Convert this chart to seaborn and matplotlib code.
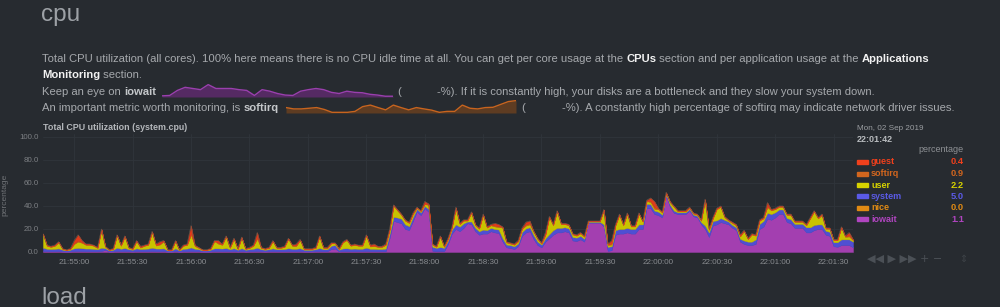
"""
Netdata style cpu section: stacked area of system.cpu with page text around it.
"""
import matplotlib
matplotlib.use("Agg")
import matplotlib.pyplot as plt
import matplotlib.dates as mdates
from matplotlib.patches import Rectangle
import pandas as pd
import seaborn as sns

W, H = 1000, 307
BG = "#272b30"
GREY = "#a6a9ad"
WHITE = "#f2f2f2"

# samples every 2 s from 21:54:44 to 22:01:40
iowait = [
    0.8, 0.6, 0.6, 0.6, 0.7, 0.5, 0.4, 0.5, 0.7, 0.8,
    0.7, 0.6, 0.6, 0.6, 0.6, 0.8, 1.8, 0.4, 0.5, 0.8,
    0.6, 0.7, 0.6, 0.5, 0.7, 0.6, 0.6, 0.6, 0.8, 0.6,
    0.6, 0.7, 0.4, 0.4, 0.7, 0.4, 0.6, 0.6, 0.8, 0.6,
    0.6, 0.4, 0.4, 0.5, 0.7, 0.7, 0.6, 0.7, 0.6, 0.7,
    0.5, 0.7, 0.5, 0.6, 0.6, 0.8, 0.6, 0.5, 0.6, 0.7,
    0.6, 0.6, 0.6, 0.7, 0.6, 0.6, 0.7, 0.5, 0.5, 0.5,
    0.6, 0.7, 0.6, 0.6, 2.5, 3.0, 0.5, 0.7, 0.7, 0.6,
    0.6, 0.6, 0.6, 0.8, 0.6, 0.6, 0.6, 0.6, 0.6, 12.0,
    27, 26, 25, 20, 19, 27, 35, 32, 38, 35,
    1.0, 0.6, 0.8, 0.6, 7.0, 16, 20, 18, 21, 25,
    24, 18, 15, 16, 16, 18, 17, 16.5, 9, 4.0,
    3.5, 2.5, 5, 14, 17, 18, 11, 6, 4, 9,
    12, 15, 17, 17, 18, 17, 10, 9.5, 11, 9,
    25.5, 25.5, 25.5, 25.5, 22, 1.0, 1.5, 15, 16, 16,
    17, 16, 16, 20, 20, 38, 38, 33, 32, 30,
    49, 39, 34, 33, 33, 33, 36, 31, 30, 24,
    20, 13, 23, 24, 26, 25, 24, 21, 19, 9,
    7, 6, 6, 7, 20, 22, 29, 28, 30, 33,
    33, 26, 25, 21, 21, 21, 17, 17, 19, 20,
    20, 15, 14, 5, 4.5, 6, 6, 6, 4,
]
system = [
    3.0, 2.2, 2.0, 2.2, 2.4, 1.5, 1.0, 1.5, 2.5, 2.8,
    2.6, 2.4, 2.4, 2.2, 1.8, 3.0, 1.5, 1.0, 1.5, 3.0,
    2.2, 2.8, 1.8, 1.5, 2.5, 2.0, 2.2, 2.4, 3.0, 2.4,
    2.4, 2.5, 1.0, 1.0, 2.5, 1.0, 2.2, 2.4, 3.2, 2.2,
    1.8, 1.0, 1.0, 1.5, 2.5, 2.5, 2.4, 2.8, 1.8, 2.6,
    1.5, 2.6, 1.5, 1.8, 2.2, 3.0, 1.8, 1.5, 1.8, 2.5,
    1.8, 1.8, 2.0, 2.6, 2.2, 2.2, 2.6, 1.5, 1.5, 1.5,
    1.8, 2.8, 1.8, 1.8, 3.0, 3.0, 1.5, 2.4, 2.6, 2.2,
    2.4, 2.2, 2.2, 3.0, 2.2, 2.2, 2.0, 2.0, 2.4, 4.0,
    3.5, 4, 4, 4, 3.5, 3.5, 2.5, 2.5, 2, 2.5,
    3.5, 3.0, 3.5, 3.0, 3.0, 3.5, 4, 4, 4, 1.5,
    2.5, 3, 3, 3.5, 3, 3, 3, 3, 3, 2.5,
    2.5, 2.5, 2.5, 3.5, 3.5, 3.5, 3.5, 3, 2.5, 3,
    3.5, 4, 4, 4, 3.5, 3.5, 3, 3, 3, 2.5,
    0.8, 0.8, 0.8, 0.8, 2, 3.5, 3.5, 4, 4, 4,
    4, 4, 4, 4, 4, 4, 3.5, 3, 3, 2.5,
    1.5, 2, 2, 1.5, 1.5, 1.5, 1.5, 1.5, 1.5, 2,
    3, 4, 4, 3.5, 3.5, 3, 2.5, 2.5, 2.5, 2.5,
    3, 3, 3, 4, 4.5, 5, 5, 5, 4.5, 4,
    4, 3.5, 3.5, 3.5, 3.5, 3.5, 4.5, 4.5, 4.5, 4,
    4, 3.5, 3.5, 3.5, 4, 5, 5, 5, 5,
]
user = [
    11.5, 2.6, 1.8, 2.6, 5.3, 0.6, 0.4, 0.6, 3.8, 5.4,
    4.7, 3.2, 3.2, 2.6, 1.1, 15.3, 1.2, 0.4, 0.6, 10.5,
    2.6, 9.8, 1.1, 0.6, 6.2, 1.2, 2.6, 3.2, 13.3, 2.6,
    3.5, 6.2, 0.4, 0.4, 6.2, 0.4, 2.6, 3.2, 11.0, 2.4,
    1.1, 0.4, 0.4, 0.6, 6.2, 4.0, 3.2, 9.8, 1.1, 8.1,
    0.6, 9.1, 0.6, 1.1, 2.6, 7.7, 1.1, 0.6, 1.1, 6.2,
    1.1, 1.1, 1.8, 8.1, 2.6, 2.4, 7.1, 0.6, 0.6, 0.6,
    1.1, 9.8, 1.1, 1.1, 2.0, 1.5, 0.6, 5.3, 7.1, 2.6,
    3.2, 2.6, 2.6, 10.5, 2.0, 2.4, 1.8, 1.8, 3.2, 3.2,
    9.5, 6, 3.2, 3.2, 2.7, 2.7, 1.0, 1.0, 1.5, 3.5,
    1.8, 0.9, 9.0, 0.9, 1.4, 1.8, 14, 2.2, 2.2, 0.8,
    7.6, 2.2, 2.2, 12.7, 2.2, 2.2, 2.2, 2.2, 9.2, 1.8,
    1.3, 1.3, 1.8, 2.7, 2.5, 2.5, 2.7, 2.2, 0.9, 2.6,
    14.7, 4.2, 14.2, 3.2, 2.7, 2.7, 2.2, 1.7, 2.2, 1.7,
    0.4, 0.4, 0.4, 0.4, 12.4, 1.6, 1.5, 4.2, 12.2, 3.2,
    12.2, 2.2, 2.2, 9.2, 2.2, 2.2, 2.0, 1.5, 2.2, 1.7,
    0.8, 2.2, 3.2, 0.8, 0.8, 0.8, 0.8, 0.8, 0.8, 1.2,
    22.2, 2.2, 2.2, 9.7, 9.7, 2.2, 0.8, 1.7, 1.5, 2.0,
    8.2, 2.2, 6.2, 3.2, 2.7, 2.2, 5.0, 3.2, 2.7, 2.2,
    2.2, 2.7, 3.7, 1.7, 1.7, 1.7, 1.7, 7.7, 11.7, 5.2,
    8.2, 1.7, 2.7, 1.7, 1.7, 10.2, 2.2, 2.5, 1.2,
]
softirq = [
    0.4, 0.3, 0.3, 0.3, 0.3, 0.2, 0.1, 0.2, 0.5, 1.0,
    0.5, 0.4, 0.4, 0.3, 0.3, 0.5, 0.3, 0.1, 0.2, 0.4,
    0.3, 0.4, 0.3, 0.2, 0.3, 0.4, 0.3, 0.4, 0.5, 0.4,
    0.5, 0.3, 0.1, 0.1, 0.3, 0.1, 0.3, 0.4, 1.0, 0.3,
    0.3, 0.1, 0.1, 0.2, 0.3, 0.8, 0.4, 0.4, 0.3, 0.3,
    0.2, 0.3, 0.2, 0.3, 0.3, 1.0, 0.3, 0.2, 0.3, 0.3,
    0.3, 0.3, 0.3, 0.3, 0.3, 0.5, 0.3, 0.2, 0.2, 0.2,
    0.3, 0.4, 0.3, 0.3, 0.3, 0.3, 0.2, 0.3, 0.3, 0.3,
    0.4, 0.3, 0.3, 0.4, 0.4, 0.5, 0.3, 0.3, 0.4, 0.4,
    0.5, 0.5, 0.4, 0.4, 0.4, 0.4, 0.3, 0.3, 0.5, 0.5,
    0.4, 0.3, 0.4, 0.3, 0.3, 0.4, 0.5, 0.4, 0.4, 0.4,
    0.5, 0.4, 0.4, 0.4, 0.4, 0.4, 0.8, 0.8, 0.4, 0.4,
    0.4, 0.4, 0.4, 0.4, 1.0, 1.0, 0.4, 0.4, 0.3, 0.8,
    0.4, 0.4, 0.4, 0.4, 0.4, 0.4, 0.4, 0.4, 0.4, 0.4,
    0.2, 0.2, 0.2, 0.2, 0.3, 0.5, 1.0, 0.4, 0.4, 0.4,
    0.4, 0.4, 0.4, 0.4, 0.4, 0.4, 1.0, 1.5, 0.4, 0.4,
    0.4, 0.4, 0.4, 0.4, 0.4, 0.4, 0.4, 0.4, 0.4, 0.4,
    0.4, 0.4, 0.4, 0.4, 0.4, 0.4, 0.4, 0.4, 0.5, 0.5,
    0.4, 0.4, 0.4, 0.4, 0.4, 0.4, 1.0, 0.4, 0.4, 0.4,
    0.4, 0.4, 0.4, 0.4, 0.4, 0.4, 0.4, 0.4, 0.4, 0.4,
    0.4, 0.4, 0.4, 0.4, 0.4, 0.4, 0.4, 1.0, 0.4,
]
guest = [
    0.3, 0.3, 0.3, 0.3, 0.3, 0.2, 0.1, 0.2, 2.5, 5.0,
    1.5, 0.4, 0.4, 0.3, 0.2, 0.4, 0.2, 0.1, 0.2, 0.3,
    0.3, 0.3, 0.2, 0.2, 0.3, 0.8, 0.3, 0.4, 0.4, 1.0,
    2.0, 0.3, 0.1, 0.1, 0.3, 0.1, 0.3, 0.4, 7.0, 0.5,
    0.2, 0.1, 0.1, 0.2, 0.3, 2.0, 0.4, 0.3, 0.2, 0.3,
    0.2, 0.3, 0.2, 0.2, 0.3, 4.5, 0.2, 0.2, 0.2, 0.3,
    0.2, 0.2, 0.3, 0.3, 0.3, 1.3, 0.3, 0.2, 0.2, 0.2,
    0.2, 0.3, 0.2, 0.2, 0.2, 0.2, 0.2, 0.3, 0.3, 0.3,
    0.4, 0.3, 0.3, 0.3, 0.8, 1.3, 0.3, 0.3, 0.4, 0.4,
    0.5, 0.5, 0.4, 0.4, 0.4, 0.4, 0.2, 0.2, 2.0, 0.5,
    0.3, 0.2, 0.3, 0.2, 0.3, 0.3, 0.5, 0.4, 0.4, 0.3,
    0.4, 0.4, 0.4, 0.4, 0.4, 0.4, 2.0, 1.5, 0.4, 0.3,
    0.3, 0.3, 0.3, 0.4, 2.0, 2.0, 0.4, 0.4, 0.3, 1.6,
    0.4, 0.4, 0.4, 0.4, 0.4, 0.4, 0.4, 0.4, 0.4, 0.4,
    0.1, 0.1, 0.1, 0.1, 0.3, 0.4, 2.5, 0.4, 0.4, 0.4,
    0.4, 0.4, 0.4, 0.4, 0.4, 0.4, 2.5, 5.0, 0.4, 0.4,
    0.3, 0.4, 0.4, 0.3, 0.3, 0.3, 0.3, 0.3, 0.3, 0.4,
    0.4, 0.4, 0.4, 0.4, 0.4, 0.4, 0.3, 0.4, 0.5, 1.0,
    0.4, 0.4, 0.4, 0.4, 0.4, 0.4, 3.0, 0.4, 0.4, 0.4,
    0.4, 0.4, 0.4, 0.4, 0.4, 0.4, 0.4, 0.4, 0.4, 0.4,
    0.4, 0.4, 0.4, 0.4, 0.4, 0.4, 0.4, 2.5, 0.4,
]

# sparkline heights (relative)
iowait_spark = [3, 4, 17, 25, 22, 19, 32, 22, 22, 22, 19, 17, 4, 19, 15, 9,
                5, 4, 15, 19, 22, 19, 12, 9, 15, 12, 11, 7, 5, 2, 2]
softirq_spark = [5.7, 4.3, 4.3, 5, 5.7, 3.7, 0.7, 0.7, 0.7, 1.7, 6.7, 8.3,
                 5.7, 3.3, 8.3, 5.7, 3.3, 5.7, 4.3, 3, 0.7, 1.7, 1.7, 8.3,
                 5, 4.3, 5.7, 6, 9, 12, 13]

# legend readout at 22:01:42
legend_names = ["guest", "softirq", "user", "system", "nice", "iowait"]
legend_values = ["0.4", "0.9", "2.2", "5.0", "0.0", "1.1"]
legend_colors = ["#f0401c", "#d2661e", "#d6d200", "#5a5ae6", "#e08a14", "#b045c0"]

fill = {"iowait": "#a33fb0", "system": "#4f4fd2", "user": "#c8c300",
        "softirq": "#c8621c", "guest": "#e23a1a"}

times = pd.date_range("2019-09-02 21:54:44", periods=len(iowait), freq="2s")
df = pd.DataFrame({"iowait": iowait, "system": system, "user": user,
                   "softirq": softirq, "guest": guest}, index=times)

sns.set_theme(style="dark", rc={
    "figure.facecolor": BG, "axes.facecolor": BG, "axes.edgecolor": BG,
    "grid.color": "#30353b", "text.color": GREY,
    "xtick.color": "#8a8d91", "ytick.color": "#7d8084",
})
plt.rcParams["font.family"] = ["Liberation Sans", "DejaVu Sans"]

fig = plt.figure(figsize=(W / 100, H / 100), dpi=100)


def fx(x):
    return x / W


def fy(y):
    return 1 - y / H


# ---- page text
fig.text(fx(41), fy(15), "cpu", fontsize=17.5, color="#9da1a6", va="center")
fig.text(fx(41), fy(298), "load", fontsize=17.5, color="#9da1a6", va="center")

renderer = fig.canvas.get_renderer()


def write_run(x, y, parts, size=8.15):
    for txt, weight, color in parts:
        t = fig.text(fx(x), fy(y), txt, fontsize=size, fontweight=weight,
                     color=color, va="center", ha="left")
        x = t.get_window_extent(renderer).x1
    return x


write_run(42, 59, [
    ("Total CPU utilization (all cores). 100% here means there is no CPU idle "
     "time at all. You can get per core usage at the ", "normal", GREY),
    ("CPUs", "bold", WHITE),
    (" section and per application usage at the ", "normal", GREY),
    ("Applications", "bold", WHITE),
])
write_run(42, 75, [("Monitoring", "bold", WHITE), (" section.", "normal", GREY)])
write_run(42, 92, [("Keep an eye on ", "normal", GREY), ("iowait", "bold", "#c4c7ca")])
write_run(397, 92, [("(", "normal", GREY)])
write_run(437, 92, [("-%). If it is constantly high, your disks are a bottleneck "
                     "and they slow your system down.", "normal", GREY)])
write_run(42, 108, [("An important metric worth monitoring, is ", "normal", GREY),
                    ("softirq", "bold", "#c4c7ca")])
write_run(521, 108, [("(", "normal", GREY)])
write_run(562, 108, [("-%). A constantly high percentage of softirq may indicate "
                      "network driver issues.", "normal", GREY)])

# ---- inline sparklines
for vals, x0, x1, y0, y1, line_c, fill_c in [
        (iowait_spark, 162, 393, 84, 97, "#9a3fae", "#552a63"),
        (softirq_spark, 286, 516, 100, 113, "#c8641e", "#5e3c22")]:
    sax = fig.add_axes([fx(x0), fy(y1), (x1 - x0) / W, (y1 - y0) / H])
    sp = pd.DataFrame({"pos": range(len(vals)), "val": vals})
    sax.fill_between(sp["pos"], 0, sp["val"], color=fill_c, lw=0)
    sns.lineplot(data=sp, x="pos", y="val", ax=sax, color=line_c, lw=1.0)
    sax.set_xlim(0, len(vals) - 1)
    sax.set_ylim(0, max(vals) * 1.05)
    sax.axis("off")

# ---- main chart
ax = fig.add_axes([fx(43), fy(252), (853 - 43) / W, (252 - 134) / H])
order = ["iowait", "system", "user", "softirq", "guest"]
ax.stackplot(df.index, [df[c] for c in order], colors=[fill[c] for c in order],
             lw=0.3, edgecolor="face")
top = df[order].sum(axis=1).rename("total").reset_index()
sns.lineplot(data=top, x="index", y="total", ax=ax, color="#6b5a4a", lw=0.4)

ax.set_xlim(times[0], times[-1])
ax.set_ylim(0, 102.6)
ax.set_yticks([0, 20, 40, 60, 80, 100])
ax.set_yticklabels(["%.1f" % v for v in [0, 20, 40, 60, 80, 100]], fontsize=5.7)
ax.xaxis.set_major_locator(mdates.SecondLocator(bysecond=[0, 30]))
ax.xaxis.set_major_formatter(mdates.DateFormatter("%H:%M:%S"))
ax.tick_params(axis="x", labelsize=5.8, length=0, pad=5)
ax.tick_params(axis="y", length=0, pad=3)
ax.grid(True, lw=0.6)
ax.set_xlabel("")
ax.set_ylabel("")
for s in ax.spines.values():
    s.set_visible(False)

fig.text(fx(43), fy(127), "Total CPU utilization (system.cpu)", fontsize=6.4,
         fontweight="bold", color="#b4b7bb", va="center")
fig.text(fx(5), fy(195), "percentage", fontsize=6, color="#6f7276",
         rotation=90, va="center", ha="center")

# ---- legend panel
fig.text(fx(857), fy(128), "Mon, 02 Sep 2019", fontsize=5.9, color="#9a9da1", va="center")
fig.text(fx(857), fy(139), "22:01:42", fontsize=6.5, fontweight="bold",
         color="#b8bbbe", va="center")
fig.text(fx(964), fy(150), "percentage", fontsize=6.5, color="#8e9195",
         va="center", ha="right")
rows_y = [162, 173.7, 185, 196.3, 208, 219.3]
for name, val, col, yy in zip(legend_names, legend_values, legend_colors, rows_y):
    fig.patches.append(Rectangle((fx(857), fy(yy + 2)), 11 / W, 4 / H,
                                 transform=fig.transFigure, color=col))
    fig.text(fx(871), fy(yy), name, fontsize=6.5, fontweight="bold",
             color=col, va="center")
    fig.text(fx(964), fy(yy), val, fontsize=6.7, fontweight="bold",
             color=col, va="center", ha="right")

fig.text(fx(867), fy(259), "\u25c0\u25c0 \u25b6 \u25b6\u25b6 + \u2212",
         fontsize=8, color="#4b5056", va="center",
         family=["DejaVu Sans"])
fig.text(fx(963), fy(259), "\u21d5", fontsize=7, color="#3e4348",
         va="center", ha="center", family=["DejaVu Sans"])

fig.savefig("out.png", dpi=100, facecolor=BG)
